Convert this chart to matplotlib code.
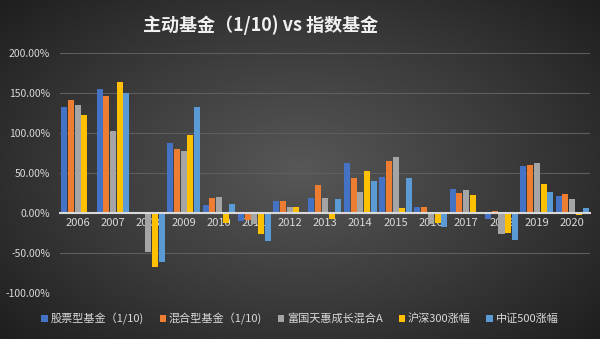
import numpy as np
import matplotlib
matplotlib.use('Agg')
import matplotlib.pyplot as plt
from matplotlib.ticker import FuncFormatter

plt.rcParams['font.family'] = ['Noto Sans CJK SC', 'DejaVu Sans']

years = ['2006', '2007', '2008', '2009', '2010', '2011', '2012', '2013',
         '2014', '2015', '2016', '2017', '2018', '2019', '2020']
labels = ['股票型基金（1/10)', '混合型基金（1/10)', '富国天惠成长混合A', '沪深300涨幅', '中证500涨幅']
stock_fund = [132.5, 155.4, 0, 87, 9.5, -10.4, 15.4, 19, 62.5, 45.4, 7, 30, -7.5, 58, 21.6]
mixed_fund = [141.6, 146.6, 0, 80, 19, -9.2, 14.6, 35, 44, 64.6, 7, 25.4, 2, 60.4, 23]
fuguo = [135, 102, -48.8, 77, 20, -13.8, 7, 19, 26, 70, -13.3, 28.7, -27, 62.5, 17]
hs300 = [122.5, 163, -67.5, 97.5, -12.5, -26, 7.9, -7.6, 52, 6.2, -12.5, 22, -25.3, 36, -3]
zz500 = [np.nan, 150, -61.7, 132.5, 10.8, -34.6, 0.3, 17.5, 39.5, 43.7, -18, -0.2, -33.3, 26.6, 6.6]
series = [stock_fund, mixed_fund, fuguo, hs300, zz500]
colors = ['#4472C4', '#ED7D31', '#A5A5A5', '#FFC000', '#5B9BD5']

fig = plt.figure(figsize=(6, 3.39), dpi=100)

# radial dark gradient background
bg = fig.add_axes([0, 0, 1, 1], zorder=-10)
yy, xx = np.mgrid[-1:1:200j, -1:1:350j]
r = np.sqrt(xx ** 2 + (yy * 0.9) ** 2)
bg.imshow(np.clip(r, 0, 1.4), cmap=matplotlib.colors.LinearSegmentedColormap.from_list(
    'bg', ['#575757', '#3b3b3b', '#1c1c1c']), aspect='auto', extent=[0, 1, 0, 1], vmin=0, vmax=1.4)
bg.axis('off')

ax = fig.add_axes([0.1, 0.136, 0.883, 0.708])
ax.patch.set_alpha(0)
x = np.arange(len(years))
for k, (vals, c, lab) in enumerate(zip(series, colors, labels)):
    ax.bar(x + (k - 2) * 0.19, vals, width=0.17, color=c, label=lab, zorder=3)

ax.set_xlim(-0.5, len(years) - 0.5)
ax.set_ylim(-100, 200)
ax.set_yticks(np.arange(-100, 201, 50))
ax.yaxis.set_major_formatter(FuncFormatter(lambda v, p: '{:.2f}%'.format(v)))
ax.grid(axis='y', color='#5e5e5e', linewidth=0.8, zorder=0)
ax.set_xticks(x)
ax.set_xticklabels(years)
for s in ['top', 'right', 'left']:
    ax.spines[s].set_visible(False)
ax.spines['bottom'].set_position(('data', 0))
ax.spines['bottom'].set_color('#d9d9d9')
ax.spines['bottom'].set_linewidth(1.5)
ax.spines['bottom'].set_zorder(4)
ax.tick_params(axis='x', length=0, colors='#d9d9d9', labelsize=8)
ax.tick_params(axis='y', length=0, colors='#d9d9d9', labelsize=7.5, pad=7)

fig.text(0.435, 0.925, '主动基金（1/10) vs 指数基金', color='#f0f0f0', fontsize=13,
         fontweight='bold', ha='center', va='center')

fig.legend(loc='center', bbox_to_anchor=(0.5, 0.06), ncol=5, frameon=False,
           fontsize=8, labelcolor='#d9d9d9', handlelength=0.6, handleheight=0.6,
           handletextpad=0.25, columnspacing=1.4)

fig.savefig('out.png', dpi=100)
